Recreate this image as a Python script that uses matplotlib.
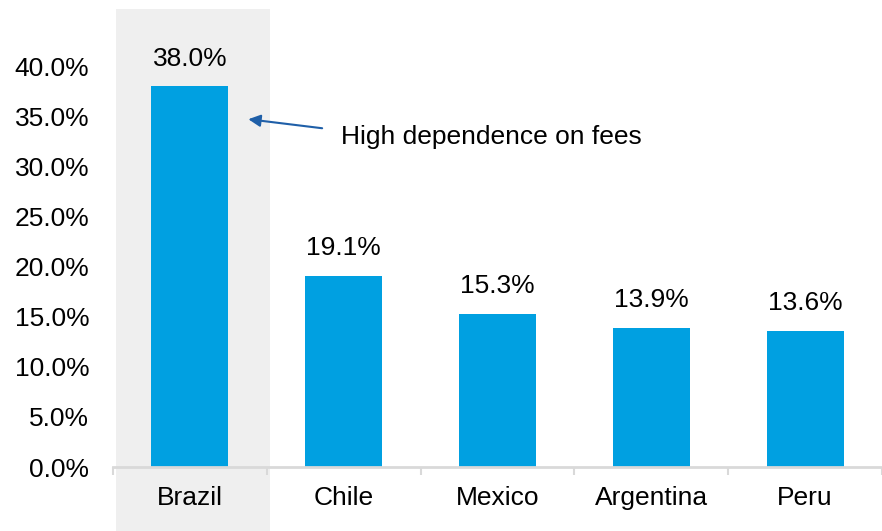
import matplotlib.pyplot as plt
from matplotlib.patches import Rectangle

countries = ['Brazil', 'Chile', 'Mexico', 'Argentina', 'Peru']
shares = [38.0, 19.1, 15.3, 13.9, 13.6]
yticks = [0, 5, 10, 15, 20, 25, 30, 35, 40]

plt.rcParams['font.family'] = ['Liberation Sans', 'DejaVu Sans']

fig = plt.figure(figsize=(8.82, 5.31), dpi=100)
ax = fig.add_axes([0.1281, 0.1205, 0.8719, 0.8494])

# grey highlight behind Brazil
ax.add_patch(Rectangle((-0.48, -6.4), 1.0, 52.1, facecolor='#efefef',
                       edgecolor='none', clip_on=False, zorder=0))

x = range(len(countries))
ax.bar(x, shares, width=0.5, color='#00A0E1', zorder=2)
for i, v in zip(x, shares):
    ax.annotate(f'{v:.1f}%', (i, v), xytext=(0, 11), textcoords='offset points',
                ha='center', va='bottom', fontsize=19)

ax.annotate('', xy=(0.38, 34.7), xytext=(0.86, 33.8),
            arrowprops=dict(arrowstyle='-|>', color='#1F5FA8', lw=1.5,
                            mutation_scale=18, shrinkA=0, shrinkB=0))
ax.text(0.98, 32.9, 'High dependence on fees', fontsize=19, va='center', ha='left')

ax.set_xlim(-0.5, 4.437)
ax.set_ylim(0, 45)
ax.set_yticks(yticks)
ax.set_yticklabels([f'{t:.1f}%' for t in yticks], fontsize=19)
ax.tick_params(axis='y', length=0, pad=17)

ax.set_xticks(list(x))
ax.set_xticklabels(countries, fontsize=19)
ax.set_xticks([i - 0.5 for i in range(len(countries) + 1)], minor=True)
ax.tick_params(axis='x', which='major', length=0, pad=14)
ax.tick_params(axis='x', which='minor', length=6, width=1.5, color='#d9d9d9')

for s in ['top', 'right', 'left']:
    ax.spines[s].set_visible(False)
ax.spines['bottom'].set_color('#d9d9d9')
ax.spines['bottom'].set_linewidth(2)
ax.patch.set_visible(False)

fig.savefig('out.png', dpi=100)
